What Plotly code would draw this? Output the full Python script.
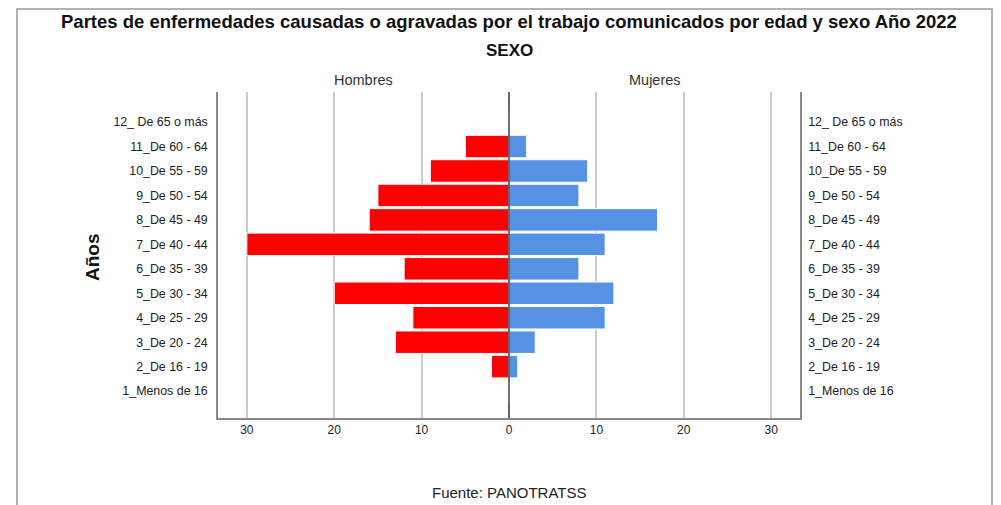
import plotly.graph_objects as go

categories = ["1_Menos de 16", "2_De 16 - 19", "3_De 20 - 24", "4_De 25 - 29", "5_De 30 - 34",
              "6_De 35 - 39", "7_De 40 - 44", "8_De 45 - 49", "9_De 50 - 54", "10_De 55 - 59",
              "11_De 60 - 64", "12_ De 65 o más"]
hombres = [0, 2, 13, 11, 20, 12, 30, 16, 15, 9, 5, 0]
mujeres = [0, 1, 3, 11, 12, 8, 11, 17, 8, 9, 2, 0]
tick_vals = [-30, -20, -10, 0, 10, 20, 30]
tick_text = ["30", "20", "10", "0", "10", "20", "30"]

title = "Partes de enfermedades causadas o agravadas por el trabajo comunicados por edad y sexo Año 2022"
FONT = "Liberation Sans, Arial, sans-serif"

fig = go.Figure()
fig.add_trace(go.Bar(y=categories, x=[-v for v in hombres], orientation="h", name="Hombres",
                     marker=dict(color="#FF0000", line=dict(color="white", width=1)),
                     width=0.92, yaxis="y"))
fig.add_trace(go.Bar(y=categories, x=mujeres, orientation="h", name="Mujeres",
                     marker=dict(color="#5592E3", line=dict(color="white", width=1)),
                     width=0.92, yaxis="y"))
# invisible trace for right axis labels
fig.add_trace(go.Scatter(y=categories, x=[0] * len(categories), mode="markers",
                         marker=dict(opacity=0), yaxis="y2", showlegend=False, hoverinfo="skip"))

OFF = 8  # page body offset
FW, FH = 1001 - OFF, 505 - OFF
L, T = 218 - OFF, 92 - OFF
W, H = 582, 326
R = FW - L - W
B = FH - T - H

def px_x(px):
    return (px - OFF - L) / W

def px_y(py):
    return (OFF + T + H - py) / H

fig.update_layout(
    width=FW, height=FH,
    margin=dict(l=L, r=R, t=T, b=B, autoexpand=False),
    paper_bgcolor="white", plot_bgcolor="white",
    barmode="relative", showlegend=False,
    font=dict(family=FONT, size=12, color="#222222"),
    xaxis=dict(range=[-33.3, 33.3], tickvals=tick_vals, ticktext=tick_text,
               showgrid=True, gridcolor="#cccccc", gridwidth=1.5,
               zeroline=False, showline=True, linecolor="#888888", linewidth=1.5,
               ticks="", tickfont=dict(size=12, color="#222222"), fixedrange=True),
    yaxis=dict(type="category", categoryorder="array", categoryarray=categories,
               range=[-1.1, 12.23], showgrid=False, zeroline=False,
               showline=True, linecolor="#888888", linewidth=1.5, ticks="",
               tickfont=dict(size=12.4, color="#222222"), ticklabelstandoff=6),
    yaxis2=dict(type="category", categoryorder="array", categoryarray=categories,
                range=[-1.1, 12.23], overlaying="y", side="right", showgrid=False,
                zeroline=False, showline=True, linecolor="#888888", linewidth=1.5, ticks="",
                tickfont=dict(size=12.4, color="#222222"), ticklabelstandoff=4),
)

fig.add_shape(type="line", xref="x", yref="paper", x0=0, x1=0, y0=0, y1=1,
              line=dict(color="#444444", width=1.5), layer="above")
# outer border
fig.add_shape(type="rect", xref="paper", yref="paper",
              x0=px_x(17), x1=px_x(992), y0=px_y(520), y1=px_y(9),
              line=dict(color="#999999", width=1.5), fillcolor="rgba(0,0,0,0)", layer="above")

annos = [
    dict(text="<b>" + title + "</b>", x=px_x(509), y=px_y(22), font=dict(size=18.5, color="#111111")),
    dict(text="<b>SEXO</b>", x=px_x(509), y=px_y(50), font=dict(size=17, color="#111111")),
    dict(text="Hombres", x=px_x(363), y=px_y(80), font=dict(size=14.5, color="#333333")),
    dict(text="Mujeres", x=px_x(655), y=px_y(80), font=dict(size=14.5, color="#333333")),
    dict(text="<b>Años</b>", x=px_x(92), y=px_y(257), textangle=-90, font=dict(size=19, color="#111111")),
    dict(text="Fuente: PANOTRATSS", x=px_x(509), y=px_y(492), font=dict(size=15, color="#222222")),
]
for a in annos:
    fig.add_annotation(xref="paper", yref="paper", showarrow=False, xanchor="center", yanchor="middle", **a)

fig.write_html("out.html")
